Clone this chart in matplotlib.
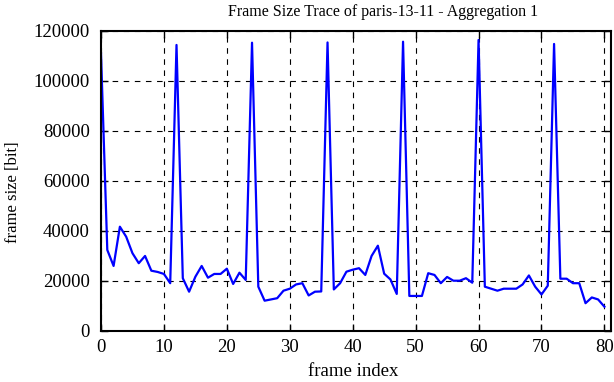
import numpy as np
import matplotlib
matplotlib.use('Agg')
from matplotlib import pyplot as plt

plt.rcParams['font.family'] = ['Liberation Serif', 'DejaVu Serif']

title = 'Frame Size Trace of paris-13-11 - Aggregation 1'
xlabel = 'frame index'
ylabel = 'frame size [bit]'
xticks = [0, 10, 20, 30, 40, 50, 60, 70, 80]
yticks = [0, 20000, 40000, 60000, 80000, 100000, 120000]

# frame sizes in bit, frames 0..80
frame_size = [111000, 32300, 25900, 41600, 37600, 31000, 27000, 29900, 24000, 23500,
              22700, 19000, 114300, 21000, 15600, 21600, 25900, 21200, 22700, 22700,
              24800, 18700, 23200, 20300, 115200, 17600, 12000, 12500, 13000, 16000,
              16800, 18500, 19000, 14100, 15600, 15700, 115300, 16500, 19000, 23600,
              24400, 25000, 22300, 29900, 34000, 22800, 20500, 14700, 115600, 13900,
              13900, 13900, 23000, 22300, 19000, 21500, 20000, 20000, 21000, 19200,
              116300, 17600, 16800, 16000, 16800, 16800, 16800, 18500, 22100, 17600,
              14500, 18000, 114700, 20800, 20800, 19000, 19000, 11000, 13300, 12500,
              9600]
frame_idx = np.arange(len(frame_size))

W, H = 614, 382
fig = plt.figure(figsize=(W/100, H/100), dpi=100)
ax = fig.add_axes([101/W, 1-330.7/H, (610.7-101)/W, 300/H])
ax.plot(frame_idx, frame_size, color='#0000ff', lw=1.6)

ax.set_xlim(0, 81)
ax.set_ylim(0, 120000)
ax.set_xticks(xticks)
ax.set_yticks(yticks)
ax.tick_params(direction='in', top=True, right=True, length=5, width=1, labelsize=13.5)
ax.tick_params(axis='x', pad=6)
ax.tick_params(axis='y', pad=8)
ax.grid(True, color='black', ls=(0, (5, 5)), lw=0.8)
for s in ax.spines.values():
    s.set_linewidth(1.5)

# gnuplot-style placement of title and axis labels
fig.text(383/W, 1-12/H, title, fontsize=11.5, ha='center', va='center')
fig.text(353/W, 1-372/H, xlabel, fontsize=13.5, ha='center', va='center')
fig.text(13/W, 1-192/H, ylabel, fontsize=12, ha='center', va='center', rotation=90)

plt.savefig('out.png', dpi=100)
